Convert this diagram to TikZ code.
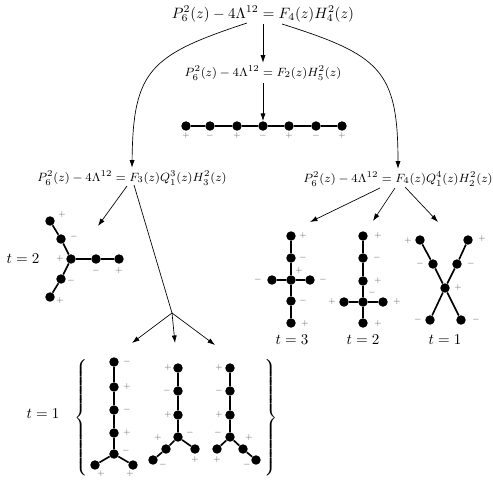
\documentclass[tikz,border=0pt]{standalone}
\usetikzlibrary{arrows.meta,calc}
\tikzset{
 dot/.style={circle,fill=black,inner sep=0pt,minimum size=6.3pt},
 edge/.style={line width=1.1pt},
 arr/.style={line width=0.45pt,-{Latex[length=5pt,width=3.4pt]}},
 conn/.style={line width=0.45pt},
 lab/.style={font=\tiny,text=black!60,inner sep=0pt},
 eq/.style={inner sep=1pt},
 smalleq/.style={font=\footnotesize,inner sep=2pt},
 tlab/.style={inner sep=0pt},
}
\newcommand\sgnlab[4]{\node[lab] at ($(#1)+(#2,#3)$) {$#4$};}
\begin{document}
\begin{tikzpicture}[x=0.6667pt,y=-0.6667pt]
\useasboundingbox (0,0) rectangle (493,489);
% equations
\node[eq] (top) at (263,14) {$P_6^2(z)-4\Lambda^{12}=F_4(z)H_4^2(z)$};
\node[smalleq] (mid) at (263,73) {$P_6^2(z)-4\Lambda^{12}=F_2(z)H_5^2(z)$};
\node[smalleq] (lbl3) at (132,178) {$P_6^2(z)-4\Lambda^{12}=F_3(z)Q_1^3(z)H_3^2(z)$};
\node[smalleq] (lbl4) at (398,179) {$P_6^2(z)-4\Lambda^{12}=F_4(z)Q_1^4(z)H_2^2(z)$};
% chain
\foreach \i/\x in {1/186,2/210,3/237,4/263,5/289,6/316,7/342}
  \node[dot] (c\i) at (\x,126) {};
\draw[edge] (c1) -- (c2) -- (c3) -- (c4) -- (c5) -- (c6) -- (c7);
\sgnlab{c1}{0}{10}{+}\sgnlab{c2}{0}{10}{-}\sgnlab{c3}{0}{10}{+}\sgnlab{c4}{0}{10}{-}
\sgnlab{c5}{0}{10}{+}\sgnlab{c6}{0}{10}{-}\sgnlab{c7}{0}{10}{+}
% main arrows
\draw[arr] (top) -- (mid);
\draw[arr] (mid) -- (c4);
\coordinate (ls) at (247,23);
\coordinate (rs) at (282,24);
\draw[arr] (ls) .. controls (150,55) and (133,70) .. (lbl3.north);
\draw[arr] (rs) .. controls (380,55) and (398,70) .. (lbl4.north);
% arrows from lbl3
\coordinate (a3s1) at (127,186); \coordinate (a3e1) at (98,226);
\draw[arr] (a3s1) -- (a3e1);
\coordinate (a3s2) at (134,185); \coordinate (br) at (172,313);
\draw[conn] (a3s2) -- (br);
\coordinate (b1) at (132,343); \coordinate (b2) at (175,343); \coordinate (b3) at (215,345);
\draw[arr] (br) -- (b1);
\draw[arr] (br) -- (b2);
\draw[arr] (br) -- (b3);
% arrows from lbl4
\coordinate (a4s1) at (380,188); \coordinate (a4e1) at (310,222);
\coordinate (a4s2) at (395,188); \coordinate (a4e2) at (373,221);
\coordinate (a4s3) at (405,187); \coordinate (a4e3) at (438,222);
\draw[arr] (a4s1) -- (a4e1);
\draw[arr] (a4s2) -- (a4e2);
\draw[arr] (a4s3) -- (a4e3);
% left t=2 tree
\node[dot] (L0) at (71,259) {};
\node[dot] (L1) at (96,259) {};
\node[dot] (L2) at (119,259) {};
\node[dot] (Lu1) at (61,239) {};
\node[dot] (Lu2) at (50,221) {};
\node[dot] (Ld1) at (61,279) {};
\node[dot] (Ld2) at (50,297) {};
\draw[edge] (Lu2) -- (Lu1) -- (L0) -- (Ld1) -- (Ld2);
\draw[edge] (L0) -- (L1) -- (L2);
\sgnlab{Lu2}{12}{-6}{+}\sgnlab{Lu1}{13}{-2}{-}\sgnlab{L0}{-11}{0}{+}
\sgnlab{L1}{0}{12}{-}\sgnlab{L2}{0}{12}{+}\sgnlab{Ld1}{10}{2}{-}\sgnlab{Ld2}{10}{4}{+}
\node[tlab] (tL) at (23,259) {$t=2$};
% t=3 tree
\node[dot] (A1) at (291,236) {};
\node[dot] (A2) at (291,258) {};
\node[dot] (A0) at (291,280) {};
\node[dot] (A4) at (291,301) {};
\node[dot] (A5) at (291,323) {};
\node[dot] (Al) at (272,280) {};
\node[dot] (Ar) at (310,280) {};
\draw[edge] (A1) -- (A2) -- (A0) -- (A4) -- (A5);
\draw[edge] (Al) -- (A0) -- (Ar);
\sgnlab{A1}{12}{0}{+}\sgnlab{A2}{12}{0}{-}\sgnlab{A0}{8}{-9}{+}\sgnlab{Al}{-14}{0}{-}
\sgnlab{Ar}{13}{0}{-}\sgnlab{A4}{12}{0}{-}\sgnlab{A5}{14}{1}{+}
\node[tlab] (tA) at (292,340) {$t=3$};
% right t=2 tree
\node[dot] (B1) at (363,236) {};
\node[dot] (B2) at (363,258) {};
\node[dot] (B3) at (363,281) {};
\node[dot] (B0) at (363,302) {};
\node[dot] (B5) at (363,323) {};
\node[dot] (Bl) at (344,302) {};
\node[dot] (Br) at (383,302) {};
\draw[edge] (B1) -- (B2) -- (B3) -- (B0) -- (B5);
\draw[edge] (Bl) -- (B0) -- (Br);
\sgnlab{B1}{15}{0}{+}\sgnlab{B2}{14}{0}{-}\sgnlab{B3}{15}{0}{+}\sgnlab{B0}{9}{-9}{-}
\sgnlab{Bl}{-12}{0}{+}\sgnlab{Br}{14}{0}{+}\sgnlab{B5}{15}{1}{+}
\node[tlab] (tB) at (363,340) {$t=2$};
% t=1 X tree
\node[dot] (C1) at (420,240) {};
\node[dot] (C2) at (468,240) {};
\node[dot] (C3) at (433,264) {};
\node[dot] (C4) at (457,264) {};
\node[dot] (C0) at (445,288) {};
\node[dot] (C5) at (430,320) {};
\node[dot] (C6) at (461,320) {};
\draw[edge] (C1) -- (C3) -- (C0) -- (C6);
\draw[edge] (C2) -- (C4) -- (C0) -- (C5);
\sgnlab{C1}{-12}{1}{+}\sgnlab{C2}{14}{-1}{+}\sgnlab{C3}{-13}{0}{-}\sgnlab{C4}{14}{0}{-}
\sgnlab{C0}{13}{0}{+}\sgnlab{C5}{-12}{0}{-}\sgnlab{C6}{15}{0}{-}
\node[tlab] (tC) at (445,340) {$t=1$};
% bottom tree D
\node[dot] (D1) at (114,362) {};
\node[dot] (D2) at (114,387) {};
\node[dot] (D3) at (114,410) {};
\node[dot] (D4) at (114,433) {};
\node[dot] (D0) at (114,454) {};
\node[dot] (Dl) at (95,465) {};
\node[dot] (Dr) at (133,465) {};
\draw[edge] (D1) -- (D2) -- (D3) -- (D4) -- (D0);
\draw[edge] (Dl) -- (D0) -- (Dr);
\sgnlab{D1}{13}{0}{-}\sgnlab{D2}{13}{0}{+}\sgnlab{D3}{13}{0}{-}\sgnlab{D4}{13}{0}{+}
\sgnlab{D0}{12}{-3}{-}\sgnlab{Dl}{6}{9}{+}\sgnlab{Dr}{-3}{9}{+}
% bottom tree E
\node[dot] (E1) at (178,368) {};
\node[dot] (E2) at (178,391) {};
\node[dot] (E3) at (178,415) {};
\node[dot] (E0) at (178,437) {};
\node[dot] (El1) at (166,449) {};
\node[dot] (El2) at (153,460) {};
\node[dot] (Er) at (195,449) {};
\draw[edge] (E1) -- (E2) -- (E3) -- (E0) -- (El1) -- (El2);
\draw[edge] (E0) -- (Er);
\sgnlab{E1}{-10}{0}{+}\sgnlab{E2}{-11}{0}{-}\sgnlab{E3}{-10}{0}{+}\sgnlab{E0}{12}{-4}{-}
\sgnlab{El1}{-8}{-11}{+}\sgnlab{El2}{10}{5}{-}\sgnlab{Er}{0}{11}{+}
% bottom tree F
\node[dot] (F1) at (230,368) {};
\node[dot] (F2) at (230,391) {};
\node[dot] (F3) at (230,415) {};
\node[dot] (F0) at (230,437) {};
\node[dot] (Fl) at (217,449) {};
\node[dot] (Fr1) at (243,449) {};
\node[dot] (Fr2) at (256,460) {};
\draw[edge] (F1) -- (F2) -- (F3) -- (F0) -- (Fr1) -- (Fr2);
\draw[edge] (F0) -- (Fl);
\sgnlab{F1}{-11}{0}{+}\sgnlab{F2}{-11}{0}{-}\sgnlab{F3}{-11}{0}{+}\sgnlab{F0}{-12}{-4}{-}
\sgnlab{Fr1}{6}{-11}{+}\sgnlab{Fl}{0}{11}{+}\sgnlab{Fr2}{-9}{5}{-}
% braces and t=1
\node[inner sep=0pt] (lbrace) at (82,417.5) {$\left\{\vrule height 42.5pt depth 37.5pt width 0pt\right.$};
\node[inner sep=0pt] (rbrace) at (270,417.5) {$\left.\vrule height 42.5pt depth 37.5pt width 0pt\right\}$};
\node[tlab] (tD) at (43,414) {$t=1$};
\end{tikzpicture}
\end{document}
